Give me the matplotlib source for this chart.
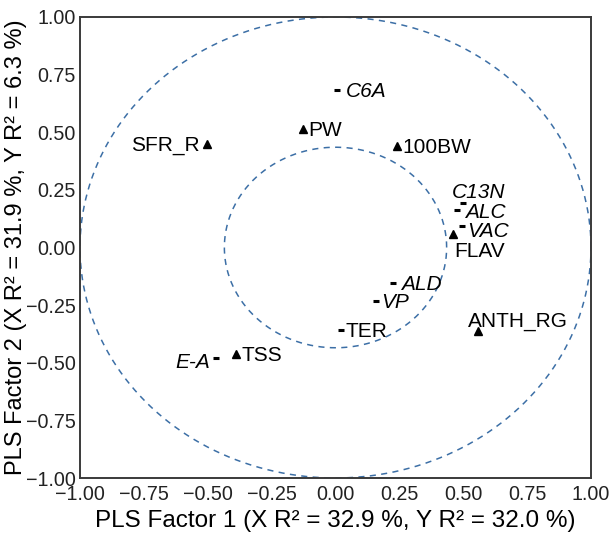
import numpy as np
import matplotlib
matplotlib.use("Agg")
import matplotlib.pyplot as plt

plt.rcParams['font.family'] = ['Liberation Sans', 'DejaVu Sans']

# Data
names   = ["C6A", "PW", "SFR_R", "100BW", "C13N", "ALC", "VAC", "FLAV",
           "ALD", "VP", "TER", "TSS", "E-A", "ANTH_RG"]
x_vals  = [0.006, -0.127, -0.503, 0.241, 0.499, 0.476, 0.495, 0.460,
           0.225, 0.159, 0.022, -0.389, -0.468, 0.558]
y_vals  = [0.684, 0.515, 0.450, 0.440, 0.195, 0.164, 0.095, 0.060,
           -0.156, -0.234, -0.360, -0.463, -0.480, -0.364]
kinds   = ["Y", "X", "X", "X", "Y", "Y", "Y", "X",
           "Y", "Y", "Y", "X", "Y", "X"]   # Y = response (dash), X = predictor (triangle)
italic  = [True, False, False, False, True, True, True, False,
           True, True, False, False, True, False]
ticks = [-1.00, -0.75, -0.50, -0.25, 0.00, 0.25, 0.50, 0.75, 1.00]
radii = [1.0, 0.435]

# label offsets in points and alignment
offsets = {
    "C6A": (6, -1, 'left'),
    "PW": (4, -1, 'left'),
    "SFR_R": (-5, -1, 'right'),
    "100BW": (4, -1, 'left'),
    "C13N": (-8, 7, 'left'),
    "ALC": (6, -2, 'left'),
    "VAC": (4, -4, 'left'),
    "FLAV": (1, -13, 'left'),
    "ALD": (6, -1, 'left'),
    "VP": (4, -1, 'left'),
    "TER": (3, -1, 'left'),
    "TSS": (4, -1, 'left'),
    "E-A": (-4, -3, 'right'),
    "ANTH_RG": (-7, 7, 'left'),
}

fig = plt.figure(figsize=(6.12, 5.33), dpi=100)
ax = fig.add_axes([80 / 612, 1 - 478 / 533, 511 / 612, 461 / 533])

theta = np.linspace(0, 2 * np.pi, 400)
for r in radii:
    ax.plot(r * np.cos(theta), r * np.sin(theta), color='#3c6fa6',
            lw=1.1, ls=(0, (4, 3.5)))

for n, x, y, k, it in zip(names, x_vals, y_vals, kinds, italic):
    if k == "X":
        ax.plot(x, y, marker='^', color='black', ms=6, ls='none')
    else:
        ax.plot(x, y, marker='_', color='black', ms=5, mew=2.2, ls='none')
    dx, dy, ha = offsets[n]
    ax.annotate(n, (x, y), xytext=(dx, dy), textcoords='offset points',
                ha=ha, va='center', fontsize=15,
                fontstyle='italic' if it else 'normal')

ax.set_xlim(-1, 1)
ax.set_ylim(-1, 1)
ax.set_xticks(ticks)
ax.set_yticks(ticks)
ax.set_xticklabels([f"{t:.2f}".replace('-', '\u2212') for t in ticks])
ax.set_yticklabels([f"{t:.2f}".replace('-', '\u2212') for t in ticks])
ax.tick_params(length=0, labelsize=14.2, colors='#222222')
ax.tick_params(axis='x', pad=5)
ax.tick_params(axis='y', pad=3)
for s in ax.spines.values():
    s.set_color('#3a3a3a')
    s.set_linewidth(1.4)

ax.set_xlabel("PLS Factor 1 (X R\u00b2 = 32.9 %, Y R\u00b2 = 32.0 %)", fontsize=17.5)
ax.set_ylabel("PLS Factor 2 (X R\u00b2 = 31.9 %, Y R\u00b2 = 6.3 %)", fontsize=17)
ax.xaxis.set_label_coords(0.5, -0.07)
ax.yaxis.set_label_coords(-0.103, 0.5)

fig.savefig("out.png", dpi=100)
